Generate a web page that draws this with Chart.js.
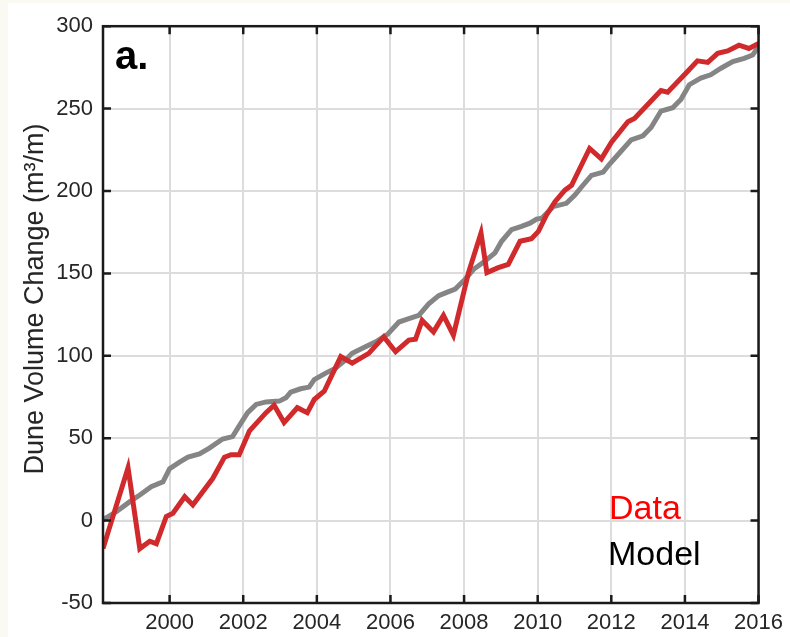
<!DOCTYPE html>
<html>
<head>
<meta charset="utf-8">
<script src="https://cdn.jsdelivr.net/npm/chart.js@4"></script>
<style>
  html, body { margin: 0; padding: 0; background: #fafaf3; }
  #wrap { position: absolute; left: 8px; top: 3px; width: 782px; height: 634px; background: #fff; }
</style>
</head>
<body>
<div id="wrap"><canvas id="duneChart" width="782" height="634"></canvas></div>
<script>
// measured dune volume change (red)
const dataYears = [1998.19, 1998.87, 1999.19, 1999.46, 1999.64, 1999.91, 2000.09, 2000.41, 2000.63, 2001.17,
    2001.49, 2001.67, 2001.89, 2002.17, 2002.62, 2002.84, 2003.11, 2003.47, 2003.74, 2003.93,
    2004.2, 2004.65, 2004.96, 2005.41, 2005.82, 2006.14, 2006.5, 2006.68, 2006.86, 2007.17,
    2007.44, 2007.71, 2008.12, 2008.46, 2008.62, 2008.93, 2009.2, 2009.52, 2009.83, 2010.02,
    2010.24, 2010.47, 2010.74, 2010.92, 2011.14, 2011.41, 2011.73, 2012.0, 2012.45, 2012.63,
    2012.99, 2013.35, 2013.53, 2014.07, 2014.34, 2014.62, 2014.89, 2015.16, 2015.47, 2015.74, 2016.0];
const dataValues = [-17, 32, -17, -12.5, -14, 2.5, 4.5, 14.5, 9.5, 25.5,
    38.5, 40, 40, 54.5, 65.5, 70, 59.5, 68.5, 65.5, 73.5,
    78.5, 99.5, 95.5, 101.5, 111.5, 102.5, 109.5, 110, 121.5, 114.5,
    124.5, 112.5, 150.5, 174.5, 150.5, 153.5, 155.5, 169.5, 171, 175.5,
    185.5, 193.5, 200.5, 203.5, 213.5, 225.8, 219.5, 229.5, 242, 244,
    252.5, 261, 260, 272.5, 279, 278, 283.5, 285, 288.5, 286.5, 289.5];

// modelled dune volume change (grey)
const modelYears = [1998.19, 1998.56, 1998.92, 1999.19, 1999.5, 1999.82, 2000.0, 2000.27, 2000.5, 2000.81,
    2001.08, 2001.44, 2001.71, 2001.89, 2002.12, 2002.35, 2002.62, 2002.98, 2003.16, 2003.29,
    2003.56, 2003.79, 2003.93, 2004.24, 2004.51, 2004.78, 2004.96, 2005.32, 2005.6, 2005.92,
    2006.23, 2006.5, 2006.77, 2007.04, 2007.31, 2007.53, 2007.76, 2008.03, 2008.26, 2008.57,
    2008.84, 2009.02, 2009.29, 2009.56, 2009.79, 2009.97, 2010.11, 2010.42, 2010.78, 2011.01,
    2011.23, 2011.46, 2011.78, 2011.96, 2012.18, 2012.54, 2012.86, 2013.08, 2013.35, 2013.67,
    2013.89, 2014.12, 2014.43, 2014.7, 2014.98, 2015.3, 2015.61, 2015.84, 2016.0];
const modelValues = [0.5, 5.5, 11.5, 15.5, 20.5, 23.5, 31.5, 35.5, 38.5, 40.5,
    44, 49.5, 51, 57.5, 65.5, 70.5, 72, 72.5, 74.5, 78,
    80, 81, 85.5, 89.5, 92.5, 97.5, 101.5, 105.5, 108.5, 113,
    120.5, 122.5, 124.5, 131.5, 136.5, 138.5, 140.5, 146.5, 152.5, 157.5,
    162.5, 169.5, 176.5, 178.5, 180.5, 183, 183.5, 190.5, 192.5, 197.5,
    203.5, 209.5, 211.5, 216.5, 222, 231, 233.5, 238.5, 248.5, 250.5,
    255.5, 264.5, 268.5, 270.5, 274.5, 278.5, 280.5, 282.5, 287.5];

const xMin = 1998.19, xMax = 2016;
const yMin = -50, yMax = 300;
const yTitle = 'Dune Volume Change (m³/m)';
const FONT = '"Liberation Sans", Arial, Helvetica, sans-serif';
const TEXT = '#262626';

const toPoints = (xs, ys) => xs.map((x, i) => ({ x: x, y: ys[i] }));

// matlab style box: frame + inward ticks, y title, panel letter and text legend
const boxPlugin = {
    id: 'box',
    afterDraw(chart) {
        const { ctx, chartArea: a, scales } = chart;
        ctx.save();
        ctx.strokeStyle = '#1a1a1a';
        ctx.lineWidth = 2.5;
        ctx.beginPath();
        const t = 8;
        scales.x.ticks.forEach(tk => {
            const px = scales.x.getPixelForValue(tk.value);
            ctx.moveTo(px, a.bottom); ctx.lineTo(px, a.bottom - t);
            ctx.moveTo(px, a.top); ctx.lineTo(px, a.top + t);
        });
        scales.y.ticks.forEach(tk => {
            const py = scales.y.getPixelForValue(tk.value);
            ctx.moveTo(a.left, py); ctx.lineTo(a.left + t, py);
            ctx.moveTo(a.right, py); ctx.lineTo(a.right - t, py);
        });
        ctx.stroke();
        ctx.strokeRect(a.left, a.top, a.right - a.left, a.bottom - a.top);

        // y axis title, rotated
        ctx.save();
        ctx.translate(28, 296);
        ctx.rotate(-Math.PI / 2);
        ctx.font = '27px ' + FONT;
        ctx.fillStyle = TEXT;
        ctx.textAlign = 'center';
        ctx.textBaseline = 'middle';
        ctx.fillText(yTitle, 0, 0);
        ctx.restore();

        ctx.textAlign = 'left';
        ctx.textBaseline = 'alphabetic';
        ctx.fillStyle = '#000';
        ctx.font = 'bold 40px ' + FONT;
        ctx.fillText('a.', a.left + 12, a.top + 43);

        ctx.font = '34px ' + FONT;
        ctx.fillStyle = '#ff0000';
        ctx.fillText('Data', 601, 516);
        ctx.fillStyle = '#000';
        ctx.fillText('Model', 600, 562);
        ctx.restore();
    }
};

new Chart(document.getElementById('duneChart'), {
    type: 'line',
    data: {
        datasets: [{
            label: 'Data',
            data: toPoints(dataYears, dataValues),
            borderColor: '#d02a2c',
            borderWidth: 5,
            pointRadius: 0,
            tension: 0
        }, {
            label: 'Model',
            data: toPoints(modelYears, modelValues),
            borderColor: '#858585',
            borderWidth: 5,
            pointRadius: 0,
            tension: 0
        }]
    },
    options: {
        responsive: false,
        animation: false,
        layout: { padding: { top: 16, right: 29, left: 0, bottom: 0 } },
        plugins: {
            legend: { display: false },
            tooltip: { enabled: false }
        },
        scales: {
            x: {
                type: 'linear',
                min: xMin,
                max: xMax,
                border: { display: false },
                grid: { color: '#dcdcdc', lineWidth: 2, drawTicks: false },
                ticks: {
                    stepSize: 2,
                    includeBounds: false,
                    padding: 7,
                    maxRotation: 0,
                    color: TEXT,
                    font: { family: FONT, size: 22 },
                    callback: v => String(v)
                },
                afterFit: s => { s.height = 34; }
            },
            y: {
                min: yMin,
                max: yMax,
                border: { display: false },
                grid: { color: '#dcdcdc', lineWidth: 2, drawTicks: false },
                ticks: {
                    stepSize: 50,
                    padding: 10,
                    color: TEXT,
                    font: { family: FONT, size: 22 }
                },
                afterFit: s => { s.width = 95; }
            }
        }
    },
    plugins: [boxPlugin]
});
</script>
</body>
</html>
